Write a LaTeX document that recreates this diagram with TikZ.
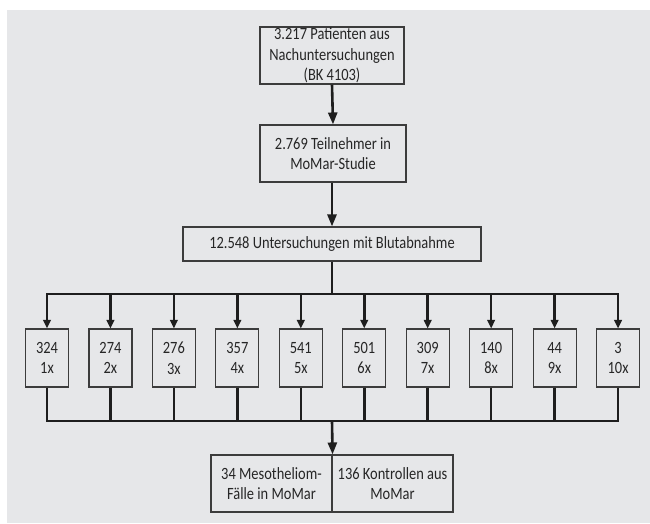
\documentclass[tikz,border=0pt]{standalone}
\usepackage{fontspec}
\setmainfont{Carlito}[FakeStretch=0.84]
\usetikzlibrary{arrows.meta}
\definecolor{bg}{HTML}{E6E7E9}
\definecolor{bd}{HTML}{3C3C3C}
\definecolor{ln}{HTML}{1E1E1E}
\begin{document}
\begin{tikzpicture}[x=1pt,y=-1pt,
  box/.style={draw=bd,line width=1.1pt,fill=bg,inner sep=0pt,align=center,
    text=black!85,font=\fontsize{17.2}{20.5}\selectfont},
  conn/.style={draw=ln,line width=2.6pt},
  bigarr/.style={conn,-{Triangle[length=12pt,width=9pt]}},
  smallarr/.style={conn,-{Triangle[length=8.5pt,width=7.5pt]}}]
\useasboundingbox (0,0) rectangle (650,523);
\fill[bg] (7,10) rectangle (650,523);
% top boxes
\node[box,minimum width=144pt,minimum height=57pt] (b1) at (332,55.5)
  {3.217 Patienten aus\\Nachuntersuchungen\\(BK 4103)};
\node[box,minimum width=146pt,minimum height=57pt] (b2) at (333,153.5)
  {2.769 Teilnehmer in\\MoMar-Studie};
\node[box,minimum width=298pt,minimum height=34pt] (b3) at (332,244)
  {12.548 Untersuchungen mit Blutabnahme};
\draw[bigarr] (b1.south) -- (b2.north);
\draw[bigarr] (b2.south -| b1.south) -- (b3.north -| b1.south);
% distribution lines
\coordinate (tl) at (47,294);
\coordinate (tr) at (618,294);
\coordinate (bl) at (47,421);
\coordinate (br) at (618,421);
\coordinate (tm) at (332,294);
\coordinate (bm) at (332,421);
\draw[conn] (b3.south -| tm) -- (tm);
\draw[conn,line cap=rect] (tl) -- (tr);
\draw[conn,line cap=rect] (bl) -- (br);
% small boxes
\foreach \n/\k [count=\i from 0] in {324/1x,274/2x,276/3x,357/4x,541/5x,501/6x,309/7x,140/8x,44/9x,3/10x}{
  \pgfmathsetmacro{\xx}{47+63.45*\i}
  \node[box,minimum width=43pt,minimum height=58pt] (s\i) at (\xx,358) {\n\\\k};
  \coordinate (st\i) at (\xx,294);
  \coordinate (sb\i) at (\xx,421);
  \draw[smallarr] (st\i) -- (s\i.north);
  \draw[conn] (s\i.south) -- (sb\i);
}
% bottom boxes
\node[box,minimum width=121pt,minimum height=57pt] (m1) at (271.5,483.5)
  {34 Mesotheliom-\\Fälle in MoMar};
\node[box,minimum width=121pt,minimum height=57pt] (m2) at (392.5,483.5)
  {136 Kontrollen aus\\MoMar};
\draw[bigarr] (bm) -- (m1.north east);
\end{tikzpicture}
\end{document}
